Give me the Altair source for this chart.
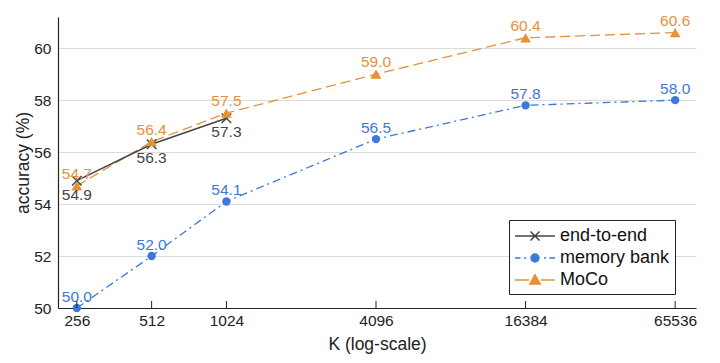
import altair as alt
import pandas as pd

K = [256, 512, 1024, 4096, 16384, 65536]
series = ["end-to-end", "memory bank", "MoCo"]
end_to_end = [54.9, 56.3, 57.3]
memory_bank = [50.0, 52.0, 54.1, 56.5, 57.8, 58.0]
moco = [54.7, 56.4, 57.5, 59.0, 60.4, 60.6]
y_ticks = [50, 52, 54, 56, 58, 60]

colors = ["#454545", "#3c78d8", "#e69138"]
FONT = "Liberation Sans"

rows = []
for k, v in zip(K, end_to_end):
    rows.append({"K": k, "acc": v, "series": series[0]})
for k, v in zip(K, memory_bank):
    rows.append({"K": k, "acc": v, "series": series[1]})
for k, v in zip(K, moco):
    rows.append({"K": k, "acc": v, "series": series[2]})
df = pd.DataFrame(rows)
df["label"] = df["acc"].map(lambda v: f"{v:.1f}")
kdf = pd.DataFrame({"K": K})

xs = alt.Scale(type="log", base=2, domain=[215, 79500], nice=False)
ys = alt.Scale(domain=[50, 61.2], nice=False, zero=False)

X = alt.X("K:Q", scale=xs,
          axis=alt.Axis(values=K, format="d", grid=False, ticks=False,
                        title="K (log-scale)", labelPadding=5, titlePadding=7,
                        domainColor="#222", domainWidth=1.2))
Y = alt.Y("acc:Q", scale=ys,
          axis=alt.Axis(values=y_ticks, grid=True, gridColor="#dcdcdc", ticks=False,
                        title="accuracy (%)", labelPadding=7, titlePadding=1,
                        domainColor="#222", domainWidth=1.2))

base = alt.Chart(df)

def sel(name):
    return base.transform_filter(alt.datum.series == name)

xticks = alt.Chart(kdf).mark_rule(color="#222", strokeWidth=1).encode(
    x=alt.X("K:Q", scale=xs), y=alt.value(291), y2=alt.value(284))

line_e2e = sel(series[0]).mark_line(color=colors[0], strokeWidth=1.5).encode(x=X, y=Y)
line_mb = sel(series[1]).mark_line(color=colors[1], strokeWidth=1.3,
                                    strokeDash=[8, 4, 2, 4]).encode(x=X, y=Y)
line_mo = sel(series[2]).mark_line(color=colors[2], strokeWidth=1.3,
                                    strokeDash=[10, 5]).encode(x=X, y=Y)

pt_mb = sel(series[1]).mark_point(shape="circle", filled=True, size=70,
                                  color=colors[1], opacity=1).encode(x=X, y=Y)
pt_mo = sel(series[2]).mark_point(shape="triangle-up", filled=True, size=115,
                                  color=colors[2], opacity=1).encode(x=X, y=Y)
pt_e2e = sel(series[0]).mark_point(shape="M-1,-1L1,1M-1,1L1,-1", filled=False, size=90,
                                   strokeWidth=1.5, color=colors[0], opacity=1).encode(x=X, y=Y)

txt_e2e = sel(series[0]).mark_text(font=FONT, fontSize=15.5, color=colors[0],
                                   baseline="top", dy=7).encode(x=X, y=Y, text="label:N")
txt_mb = sel(series[1]).mark_text(font=FONT, fontSize=15.5, color=colors[1],
                                  baseline="bottom", dy=-3).encode(x=X, y=Y, text="label:N")
txt_mo = sel(series[2]).mark_text(font=FONT, fontSize=15.5, color=colors[2],
                                  baseline="bottom", dy=-4).encode(x=X, y=Y, text="label:N")

legend_shapes = [
    "M-2,0L2,0M-0.45,-0.45L0.45,0.45M-0.45,0.45L0.45,-0.45",
    "M-2,0L-1.45,0M-1.1,0L-0.9,0M0.9,0L1.1,0M1.45,0L2,0"
    "M0.4,0A0.4,0.4,0,1,1,-0.4,0A0.4,0.4,0,1,1,0.4,0Z",
    "M-2,0L-0.6,0M0.6,0L2,0M-0.52,0.4L0,-0.52L0.52,0.4Z",
]
cscale = alt.Scale(domain=series, range=colors)
legend_layer = base.mark_point(size=0, filled=True, opacity=1).encode(
    x=X, y=Y,
    fill=alt.Fill("series:N", scale=cscale,
                  legend=alt.Legend(title=None, orient="none", legendX=451, legendY=203,
                                    symbolSize=400, symbolStrokeWidth=1.5,
                                    symbolOpacity=1, labelFont=FONT, labelFontSize=18,
                                    labelColor="#111", padding=5, rowPadding=2,
                                    symbolOffset=10, labelOffset=14, fillColor="white",
                                    strokeColor="#222")),
    stroke=alt.Stroke("series:N", scale=cscale),
    shape=alt.Shape("series:N", scale=alt.Scale(domain=series, range=legend_shapes)),
)

chart = alt.layer(
    line_mo, line_mb, line_e2e, pt_e2e, pt_mb, pt_mo,
    txt_e2e, txt_mb, txt_mo, xticks, legend_layer
).properties(
    width=638, height=291,
    padding={"left": 50, "top": 9, "right": 16, "bottom": 47},
    autosize=alt.AutoSizeParams(type="none"),
    background="white",
).configure_view(stroke=None).configure_axis(
    labelFont=FONT, labelFontSize=15.5, labelColor="#222",
    titleFont=FONT, titleFontSize=17.5, titleColor="#222", titleFontWeight="normal",
)

chart.save("out.html", embed_options={"renderer": "svg", "actions": False})
